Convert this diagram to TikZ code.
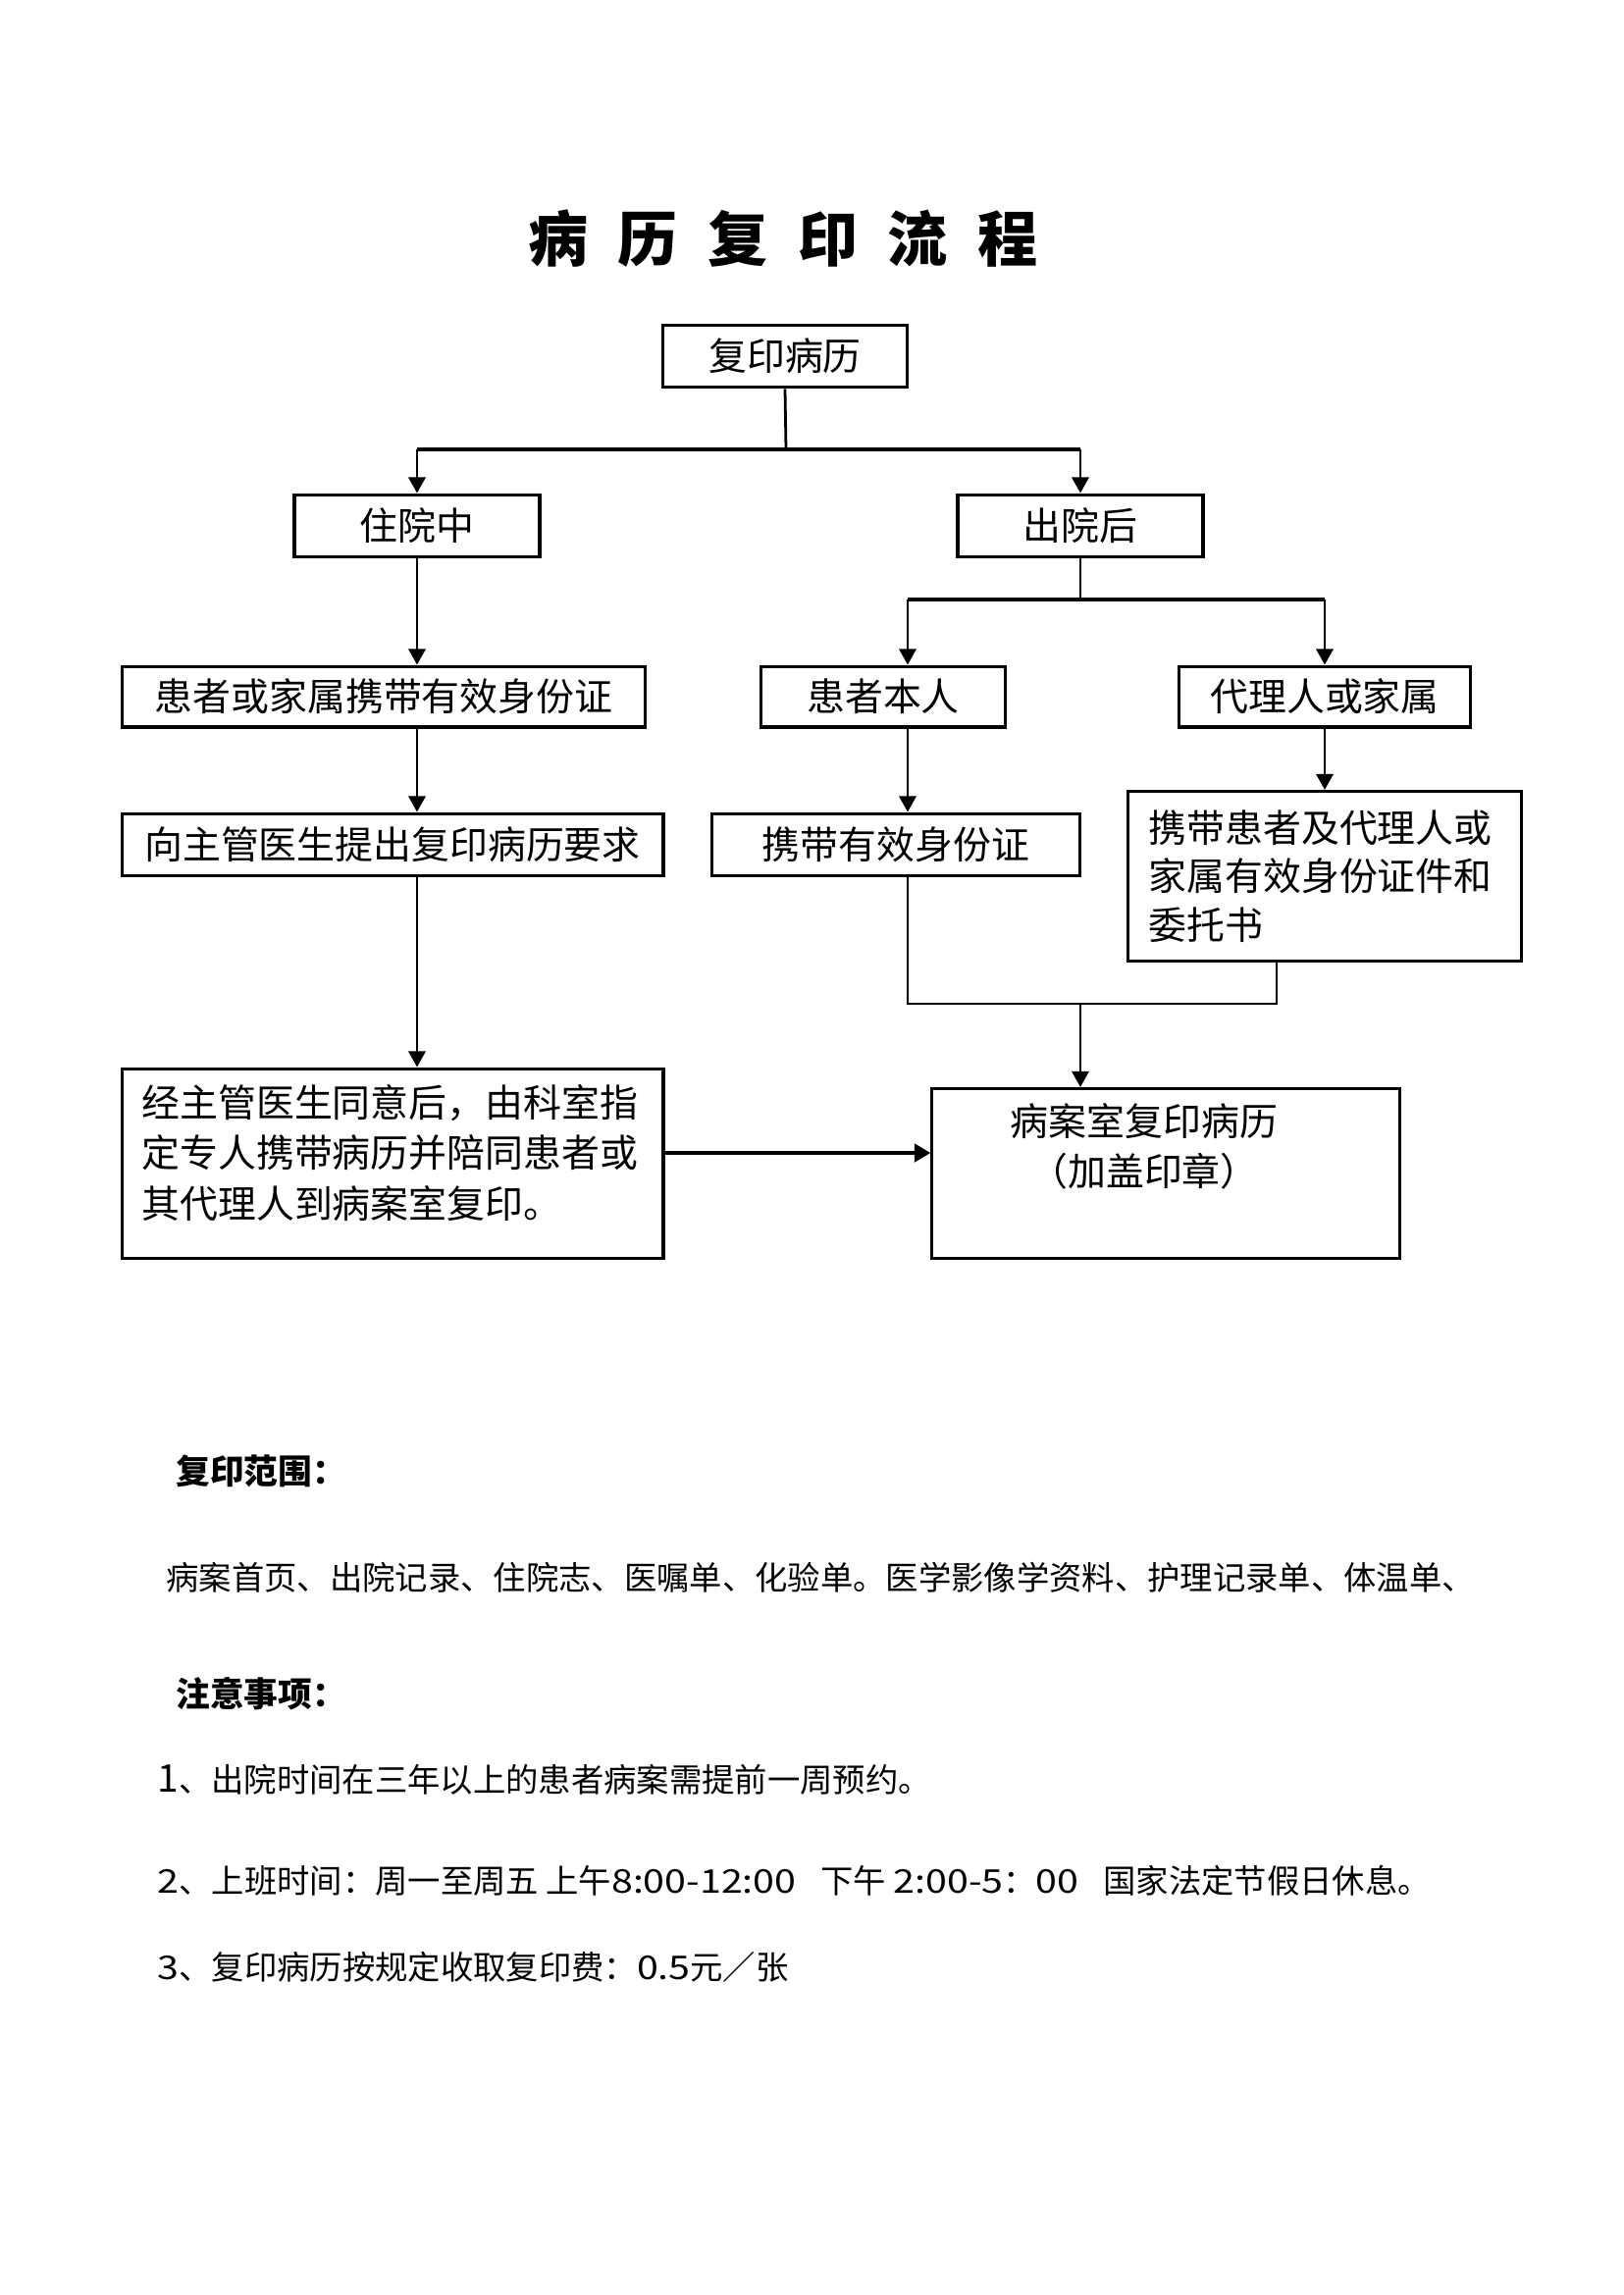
\documentclass[tikz,border=0pt]{standalone}
\usepackage{fontspec}
\setmainfont{Noto Sans CJK SC}
\newfontfamily\widedigits{Noto Sans CJK SC}[FakeStretch=1.18]
\usetikzlibrary{arrows.meta}
\tikzset{
  box/.style={draw, line width=1.1pt, inner sep=0pt, font=\fontsize{14pt}{17pt}\selectfont},
  conn/.style={line width=1pt},
  thickconn/.style={line width=1.3pt},
  arr/.style={conn, -{Triangle[length=5.8pt,width=6.2pt]}},
  thickarr/.style={line width=1.5pt, -{Triangle[length=6pt,width=6.6pt]}},
  body/.style={anchor=west, inner sep=0pt, font=\fontsize{12pt}{14pt}\selectfont},
  head/.style={anchor=west, inner sep=0pt, font=\fontsize{12.5pt}{15pt}\selectfont\bfseries},
}
\begin{document}
\begin{tikzpicture}[x=0.36pt,y=-0.36pt]
\useasboundingbox (0,0) rectangle (1654,2339);
% title
\node[inner sep=0pt, font=\fontsize{22pt}{26pt}\selectfont\bfseries] (title) at (798,243)
  {病\hspace{11pt}历\hspace{11pt}复\hspace{11pt}印\hspace{11pt}流\hspace{11pt}程};
% boxes
\node[box, minimum width=89.6pt, minimum height=23pt] (top) at (800,363) {复印病历};
\node[box, minimum width=90pt, minimum height=23pt] (zy) at (425,536) {住院中};
\node[box, minimum width=90pt, minimum height=23pt] (cy) at (1101,536) {出院后};
\node[box, minimum width=192pt, minimum height=22.3pt] (hz) at (391,710) {患者或家属携带有效身份证};
\node[box, minimum width=89.6pt, minimum height=22.3pt] (br) at (900,710) {患者本人};
\node[box, minimum width=107pt, minimum height=22.3pt] (dl) at (1350,710) {代理人或家属};
\node[box, minimum width=198.7pt, minimum height=23pt] (xz) at (400,861) {向主管医生提出复印病历要求};
\node[box, minimum width=135pt, minimum height=23pt] (xd) at (913,861) {携带有效身份证};
\node[box, minimum width=144.4pt, minimum height=62.3pt] (wt) at (1350,893) {};
\node[anchor=west, inner sep=0pt, align=left, font=\fontsize{14pt}{17.8pt}\selectfont] (wtt) at (1170,893)
  {携带患者及代理人或\\家属有效身份证件和\\委托书};
\node[box, minimum width=198.7pt, minimum height=69.8pt] (jz) at (400,1186) {};
\node[anchor=west, inner sep=0pt, align=left, font=\fontsize{14pt}{18.5pt}\selectfont] (jzt) at (144,1175)
  {经主管医生同意后，由科室指\\定专人携带病历并陪同患者或\\其代理人到病案室复印。};
\node[box, minimum width=171.4pt, minimum height=62.3pt] (ba) at (1188,1196) {};
\node[anchor=north, inner sep=0pt, align=center, font=\fontsize{14pt}{18.3pt}\selectfont] (bat) at (1166,1124)
  {病案室复印病历\\（加盖印章）};
% connectors
\coordinate (s1) at (801,458);
\coordinate (s2) at (1101,611);
\coordinate (b2) at (925,611);
\coordinate (j1) at (925,1023);
\coordinate (j2) at (1301,1023);
\coordinate (j3) at (1101,1023);
\coordinate (h1) at (676,1175);
\draw[conn] (top.south) -- (s1);
\draw[thickconn] (zy.north |- s1) -- (cy.north |- s1);
\draw[arr] (zy.north |- s1) -- (zy.north);
\draw[arr] (cy.north |- s1) -- (cy.north);
\draw[arr] (zy.south) -- (zy.south |- hz.north);
\draw[conn] (cy.south) -- (s2);
\draw[thickconn] (b2) -- (dl.north |- s2);
\draw[arr] (b2) -- (b2 |- br.north);
\draw[arr] (dl.north |- s2) -- (dl.north);
\draw[arr] (zy.south |- hz.south) -- (zy.south |- xz.north);
\draw[arr] (b2 |- br.south) -- (b2 |- xd.north);
\draw[arr] (dl.south) -- (dl.south |- wt.north);
\draw[arr] (zy.south |- xz.south) -- (zy.south |- jz.north);
\draw[conn] (b2 |- xd.south) -- (j1) -- (j2) -- (j2 |- wt.south);
\draw[arr] (j3) -- (j3 |- ba.north);
\draw[thickarr] (jz.east |- h1) -- (ba.west |- h1);
% notes
\node[head] (h1t) at (179,1499) {复印范围：};
\node[body] (l0) at (169,1608) {病案首页、出院记录、住院志、医嘱单、化验单。医学影像学资料、护理记录单、体温单、};
\node[head] (h2t) at (179,1726) {注意事项：};
\node[body] (l1) at (160,1814) {{\fontsize{14pt}{14pt}\selectfont 1}、出院时间在三年以上的患者病案需提前一周预约。};
\node[body] (l2) at (160,1917) {{\widedigits 2}、上班时间：周一至周五\ 上午{\widedigits 8:00-12:00}\hspace{9pt}下午\ {\widedigits 2:00-5}：{\widedigits 00}\hspace{9pt}国家法定节假日休息。};
\node[body] (l3) at (160,2005) {{\widedigits 3}、复印病历按规定收取复印费：{\widedigits 0.5}元／张};
\end{tikzpicture}
\end{document}
